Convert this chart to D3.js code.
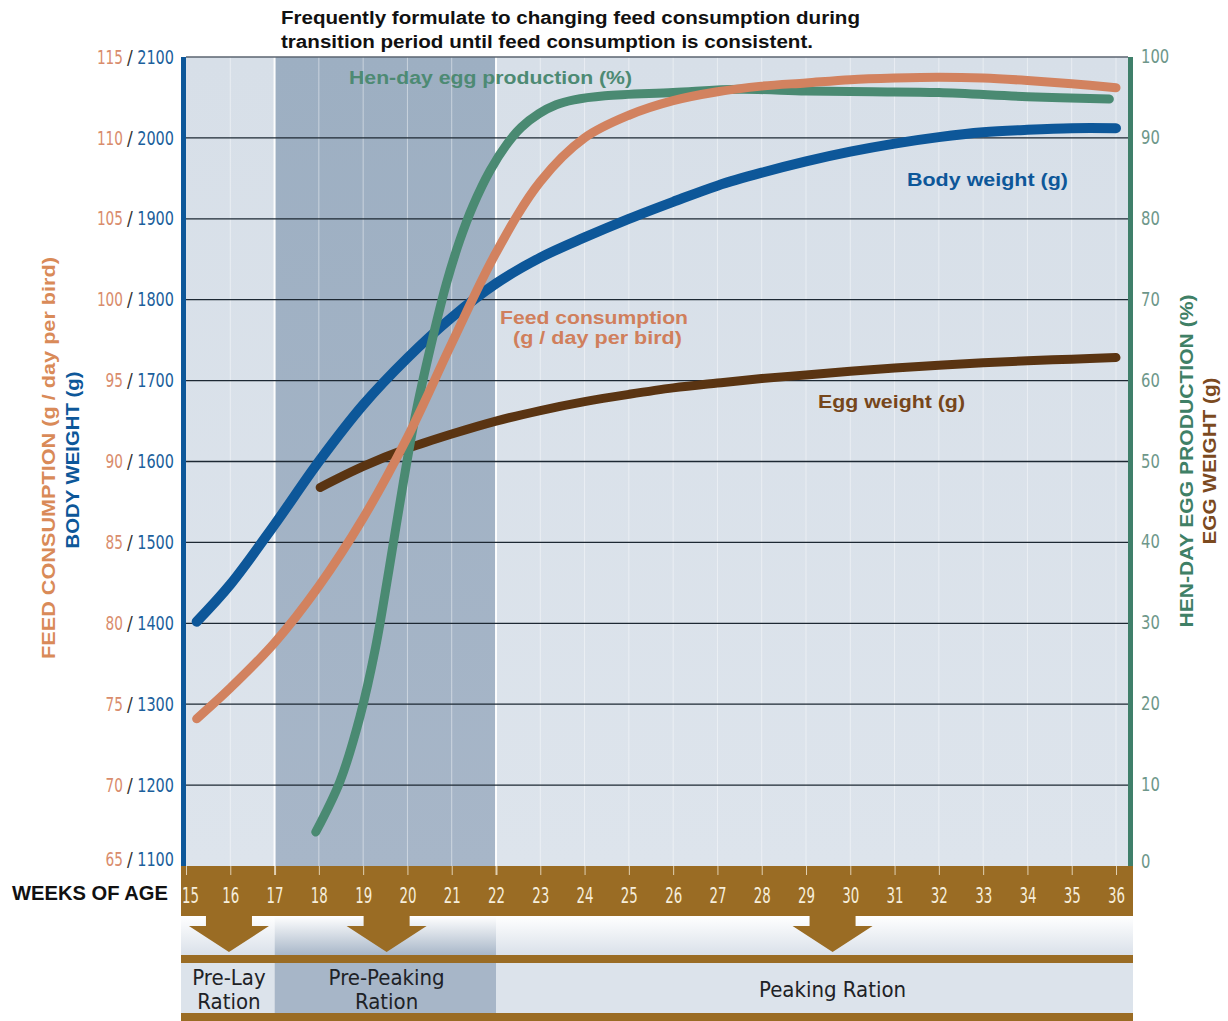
<!DOCTYPE html>
<html>
<head>
<meta charset="utf-8">
<script src="https://cdn.jsdelivr.net/npm/d3@7"></script>
<style>
  body { margin: 0; background: #fff; }
  .narrow { font-family: "Liberation Sans Narrow", "DejaVu Sans Condensed", "Roboto", sans-serif; font-stretch: condensed; }
  .arial { font-family: "Liberation Sans", Arial, sans-serif; font-weight: 700; }
</style>
</head>
<body>
<div id="chart"></div>
<script>
// ---- data ----
var weeks = [15, 16, 17, 18, 19, 20, 21, 22, 23, 24, 25, 26, 27, 28, 29, 30, 31, 32, 33, 34, 35, 36];

var growWeeks = [15.24, 16, 17, 18, 19, 20, 21, 22, 23, 24, 25, 26, 27, 28, 29, 30, 31, 32, 33, 34, 35, 36];
var bodyWeight = [1402, 1448, 1522, 1600, 1670, 1728, 1778, 1820, 1852, 1877, 1900, 1921, 1941, 1957, 1971, 1983, 1993, 2001, 2007, 2010, 2012, 2012];
var feedConsumption = [74.1, 76.0, 78.8, 82.3, 86.5, 91.5, 97.3, 102.9, 107.3, 110.0, 111.4, 112.3, 112.85, 113.2, 113.4, 113.6, 113.7, 113.75, 113.7, 113.55, 113.35, 113.1];

var prodWeeks = [17.93, 18.48, 18.93, 19.28, 19.58, 19.91, 20.21, 20.58, 20.88, 21.18, 21.48, 21.87, 22.27, 22.57, 22.97, 23.36, 23.76, 24.46, 26, 27.5, 29, 30.5, 32, 34, 35.85];
var henDayProduction = [4.2, 10.5, 18.5, 27.0, 36.5, 47.5, 56.5, 65.5, 72.0, 77.3, 81.6, 86.0, 89.4, 91.3, 93.0, 94.1, 94.7, 95.2, 95.6, 96.0, 95.8, 95.7, 95.6, 95.1, 94.8];

var eggWeeks = [18.03, 19, 20, 21, 22, 23, 24, 25, 26, 27, 28, 29, 30, 31, 32, 33, 34, 35, 36];
var eggWeight = [46.8, 49.4, 51.6, 53.4, 55.0, 56.3, 57.4, 58.3, 59.1, 59.7, 60.25, 60.7, 61.15, 61.55, 61.9, 62.2, 62.45, 62.65, 62.85];

var feedTicks = [115, 110, 105, 100, 95, 90, 85, 80, 75, 70, 65];
var bodyTicks = [2100, 2000, 1900, 1800, 1700, 1600, 1500, 1400, 1300, 1200, 1100];
var rightTicks = [100, 90, 80, 70, 60, 50, 40, 30, 20, 10, 0];

var rationNames = [["Pre-Lay", "Ration"], ["Pre-Peaking", "Ration"], ["Peaking Ration"]];
var rationStart = [15, 17, 22];
var rationEnd = [17, 22, 36];
var rationArrowWeek = [15.97, 19.53, 29.6];

(function() {
  var width = 1228, height = 1021;
  var plotLeft = 186, plotRight = 1128, plotTop = 57, plotBottom = 866;
  var bandBottom = 916;

  var svg = d3.select('#chart').append('svg')
    .attr('width', width).attr('height', height);

  var x = d3.scaleLinear().domain([15, 36]).range([186, 1116]);
  var yFeed = d3.scaleLinear().domain([65, 115]).range([plotBottom, plotTop]);
  var yBody = d3.scaleLinear().domain([1100, 2100]).range([plotBottom, plotTop]);
  var yRight = d3.scaleLinear().domain([0, 100]).range([plotBottom, plotTop]);

  var defs = svg.append('defs');
  function vgrad(id, c1, c2) {
    var g = defs.append('linearGradient').attr('id', id)
      .attr('x1', 0).attr('y1', 0).attr('x2', 0).attr('y2', 1);
    g.append('stop').attr('offset', '0%').attr('stop-color', c1);
    g.append('stop').attr('offset', '100%').attr('stop-color', c2);
  }
  vgrad('lightBg', '#d7dfe8', '#dde4ec');
  vgrad('darkBg', '#9dafc2', '#a7b6c8');
  vgrad('fadeLight', '#ffffff', '#d9e0e9');
  vgrad('fadeDark', '#ffffff', '#a6b5c7');

  // plot background
  svg.append('rect').attr('x', plotLeft).attr('y', plotTop)
    .attr('width', plotRight - plotLeft).attr('height', plotBottom - plotTop)
    .attr('fill', 'url(#lightBg)');
  svg.append('rect').attr('x', x(17)).attr('y', plotTop)
    .attr('width', x(22) - x(17)).attr('height', plotBottom - plotTop)
    .attr('fill', 'url(#darkBg)');

  // week lines
  svg.append('g').selectAll('line').data(weeks.filter(function(d) { return d > 15; }))
    .enter().append('line')
    .attr('x1', function(d) { return x(d); }).attr('x2', function(d) { return x(d); })
    .attr('y1', plotTop).attr('y2', plotBottom)
    .attr('stroke', '#ffffff')
    .attr('stroke-opacity', function(d) { return (d === 17 || d === 22) ? 0.95 : 0.45; })
    .attr('stroke-width', function(d) { return (d === 17 || d === 22) ? 2 : 1; });

  // horizontal gridlines
  svg.append('g').selectAll('line').data(feedTicks.filter(function(d) { return d > 65; }))
    .enter().append('line')
    .attr('x1', plotLeft).attr('x2', plotRight)
    .attr('y1', function(d) { return yFeed(d); }).attr('y2', function(d) { return yFeed(d); })
    .attr('stroke', function(d) { return d === 115 ? '#5b6470' : '#1d2833'; })
    .attr('stroke-width', 1.3);

  // axis bars
  svg.append('rect').attr('x', 181).attr('y', plotTop).attr('width', 5)
    .attr('height', plotBottom - plotTop).attr('fill', '#0d5799');
  svg.append('rect').attr('x', plotRight).attr('y', plotTop).attr('width', 5)
    .attr('height', plotBottom - plotTop).attr('fill', '#3f7f6a');

  // curves
  var line = d3.line().curve(d3.curveCatmullRom.alpha(0.5));
  function drawSeries(xs, ys, yScale, color, w) {
    var pts = xs.map(function(d, i) { return [x(d), yScale(ys[i])]; });
    svg.append('path').attr('d', line(pts))
      .attr('fill', 'none').attr('stroke', color)
      .attr('stroke-width', w).attr('stroke-linecap', 'round');
  }
  drawSeries(eggWeeks, eggWeight, yRight, '#5a3412', 9);
  drawSeries(growWeeks, bodyWeight, yBody, '#0d5799', 10);
  drawSeries(prodWeeks, henDayProduction, yRight, '#4a8a72', 9);
  drawSeries(growWeeks, feedConsumption, yFeed, '#d2825f', 9);

  // series labels
  function label(txt, lx, ly, color, len) {
    svg.append('text').attr('class', 'arial').attr('x', lx).attr('y', ly)
      .attr('fill', color).attr('font-size', 17.5)
      .attr('textLength', len).attr('lengthAdjust', 'spacingAndGlyphs')
      .text(txt);
  }
  label('Hen-day egg production (%)', 349, 84, '#4d8a73', 283);
  label('Body weight (g)', 907, 186, '#0d5799', 161);
  label('Feed consumption', 500, 324, '#d07f5c', 188);
  label('(g / day per bird)', 513, 344, '#d07f5c', 169);
  label('Egg weight (g)', 818, 408, '#76461b', 147);

  // top note
  svg.append('text').attr('class', 'arial').attr('x', 281).attr('y', 24)
    .attr('font-size', 17.5).attr('fill', '#111')
    .attr('textLength', 579).attr('lengthAdjust', 'spacingAndGlyphs')
    .text('Frequently formulate to changing feed consumption during');
  svg.append('text').attr('class', 'arial').attr('x', 281).attr('y', 48)
    .attr('font-size', 17.5).attr('fill', '#111')
    .attr('textLength', 532).attr('lengthAdjust', 'spacingAndGlyphs')
    .text('transition period until feed consumption is consistent.');

  // left tick labels: feed / body weight
  function labelY(d) { return Math.min(yFeed(d), 859); }
  var left = svg.append('g').attr('class', 'narrow').attr('font-size', 19);
  left.selectAll('.feed').data(feedTicks).enter().append('text')
    .attr('x', 123).attr('y', labelY).attr('dy', '0.35em')
    .attr('text-anchor', 'end').attr('fill', '#d98c6c')
    .attr('textLength', function(d) { return String(d).length * 8.7; })
    .attr('lengthAdjust', 'spacingAndGlyphs')
    .text(function(d) { return d; });
  left.selectAll('.slash').data(feedTicks).enter().append('text')
    .attr('x', 130).attr('y', labelY).attr('dy', '0.35em')
    .attr('text-anchor', 'middle').attr('fill', '#333')
    .text('/');
  left.selectAll('.body').data(bodyTicks).enter().append('text')
    .attr('x', 174).attr('y', function(d, i) { return labelY(feedTicks[i]); }).attr('dy', '0.35em')
    .attr('text-anchor', 'end').attr('fill', '#1c5f9c')
    .attr('textLength', function(d) { return String(d).length * 9.2; })
    .attr('lengthAdjust', 'spacingAndGlyphs')
    .text(function(d) { return d; });

  // right axis
  var rightAxis = svg.append('g').attr('transform', 'translate(' + (plotRight + 3) + ',0)')
    .call(d3.axisRight(yRight).tickValues(rightTicks).tickSize(0).tickPadding(10));
  rightAxis.select('.domain').remove();
  rightAxis.selectAll('.tick').attr('transform', function(d) {
    return 'translate(0,' + Math.min(yRight(d), 862) + ')';
  });
  rightAxis.selectAll('text').attr('class', 'narrow').attr('font-size', 19).attr('fill', '#6e978a')
    .attr('textLength', function(d) { return String(d).length * 9.4; })
    .attr('lengthAdjust', 'spacingAndGlyphs');

  // axis titles
  function vtitle(txt, tx, ty, color, len) {
    svg.append('text').attr('class', 'arial')
      .attr('transform', 'translate(' + tx + ',' + ty + ') rotate(-90)')
      .attr('text-anchor', 'middle').attr('font-size', 18.5).attr('fill', color)
      .attr('textLength', len).attr('lengthAdjust', 'spacingAndGlyphs')
      .text(txt);
  }
  vtitle('FEED CONSUMPTION (g / day per bird)', 55, 458, '#d98a58', 402);
  vtitle('BODY WEIGHT (g)', 79, 460, '#0d5799', 177);
  vtitle('HEN-DAY EGG PRODUCTION (%)', 1193, 461, '#3f8066', 333);
  vtitle('EGG WEIGHT (g)', 1216, 461, '#7b4a1f', 167);

  // ration area below the band
  var rations = svg.append('g');
  rationStart.forEach(function(s, i) {
    var x0 = i === 0 ? 181 : x(s);
    var x1 = i === rationStart.length - 1 ? plotRight + 5 : x(rationEnd[i]);
    var dark = i === 1;
    rations.append('rect').attr('x', x0).attr('y', bandBottom)
      .attr('width', x1 - x0).attr('height', 40)
      .attr('fill', dark ? 'url(#fadeDark)' : 'url(#fadeLight)');
    rations.append('rect').attr('x', x0).attr('y', 962)
      .attr('width', x1 - x0).attr('height', 52)
      .attr('fill', dark ? '#a7b6c8' : '#dce3eb');
    var cx = x(rationArrowWeek[i]);
    var lines = rationNames[i];
    lines.forEach(function(l, j) {
      rations.append('text').attr('class', 'narrow').attr('font-size', 22)
        .attr('fill', '#1e2226').attr('text-anchor', 'middle')
        .attr('x', cx).attr('y', lines.length === 1 ? 997 : 985 + j * 24).text(l);
    });
  });
  // brown stripes
  rations.append('rect').attr('x', 181).attr('y', 955).attr('width', plotRight + 5 - 181).attr('height', 8).attr('fill', '#9a6c24');
  rations.append('rect').attr('x', 181).attr('y', 1013).attr('width', plotRight + 5 - 181).attr('height', 8).attr('fill', '#9a6c24');

  // week band
  svg.append('rect').attr('x', 181).attr('y', plotBottom)
    .attr('width', plotRight + 5 - 181).attr('height', bandBottom - plotBottom)
    .attr('fill', '#9a6c24');

  // arrows
  rationArrowWeek.forEach(function(w) {
    var cx = x(w);
    var p = d3.path();
    p.moveTo(cx - 23, bandBottom - 1);
    p.lineTo(cx + 23, bandBottom - 1);
    p.lineTo(cx + 23, 926);
    p.lineTo(cx + 40, 926);
    p.lineTo(cx, 952);
    p.lineTo(cx - 40, 926);
    p.lineTo(cx - 23, 926);
    p.closePath();
    svg.append('path').attr('d', p.toString()).attr('fill', '#9a6c24');
  });

  // week axis
  var xAxis = svg.append('g').attr('transform', 'translate(0,' + plotBottom + ')')
    .call(d3.axisBottom(x).tickValues(weeks).tickSize(9).tickPadding(13).tickFormat(d3.format('d')));
  xAxis.select('.domain').remove();
  xAxis.selectAll('.tick line').attr('stroke', '#f3ead6').attr('stroke-opacity', 0.8)
    .attr('stroke-width', function(d) { return (d === 17 || d === 22) ? 2 : 1; });
  xAxis.selectAll('.tick').filter(function(d) { return d === 15; }).select('text').attr('x', 4);
  xAxis.selectAll('text').attr('class', 'narrow').attr('font-size', 21).attr('fill', '#f6eedb')
    .attr('textLength', 17).attr('lengthAdjust', 'spacingAndGlyphs');

  svg.append('text').attr('class', 'arial').attr('x', 168).attr('y', 900)
    .attr('text-anchor', 'end').attr('font-size', 19.5).attr('fill', '#111')
    .attr('textLength', 156).attr('lengthAdjust', 'spacingAndGlyphs')
    .text('WEEKS OF AGE');
})();
</script>
</body>
</html>
